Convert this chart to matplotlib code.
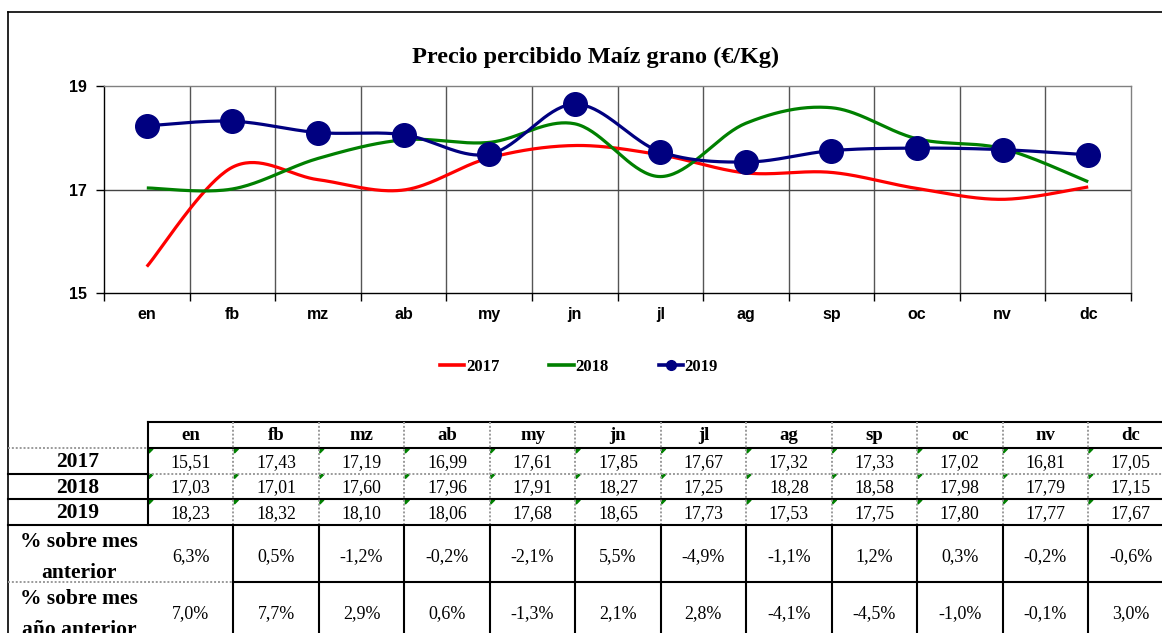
import numpy as np
import matplotlib
matplotlib.use("Agg")
import matplotlib.pyplot as plt
from matplotlib.lines import Line2D
from matplotlib.patches import Polygon

months = ["en", "fb", "mz", "ab", "my", "jn", "jl", "ag", "sp", "oc", "nv", "dc"]
years = ["2017", "2018", "2019"]
v2017 = [15.51, 17.43, 17.19, 16.99, 17.61, 17.85, 17.67, 17.32, 17.33, 17.02, 16.81, 17.05]
v2018 = [17.03, 17.01, 17.60, 17.96, 17.91, 18.27, 17.25, 18.28, 18.58, 17.98, 17.79, 17.15]
v2019 = [18.23, 18.32, 18.10, 18.06, 17.68, 18.65, 17.73, 17.53, 17.75, 17.80, 17.77, 17.67]
pct_prev_month = [6.3, 0.5, -1.2, -0.2, -2.1, 5.5, -4.9, -1.1, 1.2, 0.3, -0.2, -0.6]
pct_prev_year = [7.0, 7.7, 2.9, 0.6, -1.3, 2.1, 2.8, -4.1, -4.5, -1.0, -0.1, 3.0]
row_labels_pct = [["% sobre mes", "anterior"], ["% sobre mes", "año anterior"]]
title = "Precio percibido Maíz grano (€/Kg)"
colors = ["#FF0000", "#008000", "#000080"]

SERIF = "Liberation Serif"
SANS = "Liberation Sans"
W, H = 1162, 633

fig = plt.figure(figsize=(W / 100, H / 100), dpi=100)


def fx(x):
    return x / W


def fy(y):
    return 1 - y / H


def smooth(vals, n=40):
    p = np.column_stack([np.arange(len(vals), dtype=float), np.array(vals, dtype=float)])
    pts = []
    m = len(p)
    for i in range(m - 1):
        p0 = p[max(i - 1, 0)]
        p1 = p[i]
        p2 = p[i + 1]
        p3 = p[min(i + 2, m - 1)]
        c1 = p1 + (p2 - p0) / 6
        c2 = p2 - (p3 - p1) / 6
        t = np.linspace(0, 1, n)[:, None]
        seg = (1 - t) ** 3 * p1 + 3 * (1 - t) ** 2 * t * c1 + 3 * (1 - t) * t ** 2 * c2 + t ** 3 * p2
        pts.append(seg if i == 0 else seg[1:])
    pts = np.vstack(pts)
    return pts[:, 0], pts[:, 1]


# frame
fig.add_artist(Line2D([fx(8), 1], [fy(12), fy(12)], color="black", lw=1.2, transform=fig.transFigure))
fig.add_artist(Line2D([fx(8), fx(8)], [fy(12), 0], color="black", lw=1.2, transform=fig.transFigure))

# chart axes
ax = fig.add_axes([fx(104), fy(293), fx(1131) - fx(104), fy(86) - fy(293)])
x = np.arange(len(months))
for vals, c, name in zip([v2017, v2018, v2019], colors, years):
    sx, sy = smooth(vals)
    ax.plot(sx, sy, color=c, lw=2.3, solid_capstyle="butt", zorder=3)
ax.plot(x, v2019, linestyle="none", marker="o", ms=17, color=colors[2], zorder=4)

ax.set_xlim(-0.5, len(months) - 0.5)
ax.set_ylim(15, 19)
ax.set_yticks([15, 17, 19])
ax.set_xticks(x)
ax.set_xticklabels(months)
ax.set_xticks(np.arange(-0.5, len(months), 1), minor=True)
for xv in np.arange(0.5, len(months) - 0.5, 1):
    ax.axvline(xv, color="#555555", lw=1.0, zorder=1)
ax.axhline(17, color="#444444", lw=1.0, zorder=1)
ax.tick_params(axis="x", which="major", length=0, pad=10)
ax.tick_params(axis="x", which="minor", length=6, width=1, direction="out")
ax.tick_params(axis="y", length=6, width=1, direction="out", pad=6)
for lab in ax.get_xticklabels() + ax.get_yticklabels():
    lab.set_fontfamily(SANS)
    lab.set_fontweight("bold")
    lab.set_fontsize(11.5)
ax.spines["top"].set_color("#808080")
ax.spines["right"].set_color("#808080")
for s in ax.spines.values():
    s.set_linewidth(1.0)

fig.text(fx(596), fy(57), title, ha="center", va="center", fontfamily=SERIF,
         fontweight="bold", fontsize=17.5)

# legend
handles = [Line2D([], [], color=colors[0], lw=2.6),
           Line2D([], [], color=colors[1], lw=2.6),
           Line2D([], [], color=colors[2], lw=2.6, marker="o", ms=7)]
fig.legend(handles, years, loc="center", bbox_to_anchor=(fx(579), fy(367)), ncol=3, frameon=False,
           handlelength=1.45, handletextpad=0.1, columnspacing=3.0,
           prop={"family": SERIF, "weight": "bold", "size": 12})

# table
col0 = 148
cw = 85.45
rows_y = [422, 448, 473.5, 499, 525, 582, 640]
ncol = len(months)
right = col0 + cw * ncol


def hline(x0, x1, y, dotted=False):
    if dotted:
        fig.add_artist(Line2D([fx(x0), fx(x1)], [fy(y), fy(y)], color="#9a9a9a", lw=1.4,
                              linestyle=(0, (1, 1)), transform=fig.transFigure))
    else:
        fig.add_artist(Line2D([fx(x0), fx(x1)], [fy(y), fy(y)], color="black", lw=1.5,
                              transform=fig.transFigure))


def vline(xx, y0, y1, dotted=False):
    if dotted:
        fig.add_artist(Line2D([fx(xx), fx(xx)], [fy(y0), fy(y1)], color="#9a9a9a", lw=1.4,
                              linestyle=(0, (1, 1)), transform=fig.transFigure))
    else:
        fig.add_artist(Line2D([fx(xx), fx(xx)], [fy(y0), fy(y1)], color="black", lw=1.5,
                              transform=fig.transFigure))


hline(col0, right, rows_y[0])
hline(8, col0, rows_y[1], dotted=True)
hline(col0, right, rows_y[1])
hline(8, col0, rows_y[2])
hline(col0, right, rows_y[2], dotted=True)
hline(8, right, rows_y[3])
hline(8, right, rows_y[4])
hline(8, col0 + cw, rows_y[5], dotted=True)
hline(col0 + cw, right, rows_y[5])

vline(col0, rows_y[0], rows_y[4])
for j in range(1, ncol + 1):
    xx = col0 + cw * j
    vline(xx, rows_y[0], rows_y[4], dotted=True)
    vline(xx, rows_y[4], rows_y[6])

for j, mname in enumerate(months):
    cx = col0 + cw * (j + 0.5)
    fig.text(fx(cx), fy((rows_y[0] + rows_y[1]) / 2 + 1), mname, ha="center", va="center",
             fontfamily=SERIF, fontweight="bold", fontsize=13.5)

for r, (yr, vals) in enumerate(zip(years, [v2017, v2018, v2019])):
    yt, yb = rows_y[r + 1], rows_y[r + 2]
    cy = (yt + yb) / 2 + 1.5
    fig.text(fx(78), fy(cy), yr, ha="center", va="center", fontfamily=SERIF,
             fontweight="bold", fontsize=15.5)
    for j, v in enumerate(vals):
        cx = col0 + cw * (j + 0.5)
        fig.text(fx(cx), fy(cy), f"{v:.2f}".replace(".", ","), ha="center", va="center",
                 fontfamily=SERIF, fontsize=12.8)
        x0 = col0 + cw * j + 1
        tri = Polygon([[fx(x0), fy(yt + 1)], [fx(x0 + 4), fy(yt + 1)], [fx(x0), fy(yt + 5)]],
                      closed=True, color="#008000", transform=fig.transFigure)
        fig.add_artist(tri)

for r, (lab, vals) in enumerate(zip(row_labels_pct, [pct_prev_month, pct_prev_year])):
    yt, yb = rows_y[r + 4], rows_y[r + 5]
    fig.text(fx(79), fy(yt + 17), lab[0], ha="center", va="center", fontfamily=SERIF,
             fontweight="bold", fontsize=15.5)
    fig.text(fx(79), fy(yt + 48), lab[1], ha="center", va="center", fontfamily=SERIF,
             fontweight="bold", fontsize=15.5)
    for j, v in enumerate(vals):
        cx = col0 + cw * (j + 0.5)
        fig.text(fx(cx), fy(yt + 32), f"{v:.1f}%".replace(".", ","), ha="center", va="center",
                 fontfamily=SERIF, fontsize=13)

fig.savefig("out.png", dpi=100)
